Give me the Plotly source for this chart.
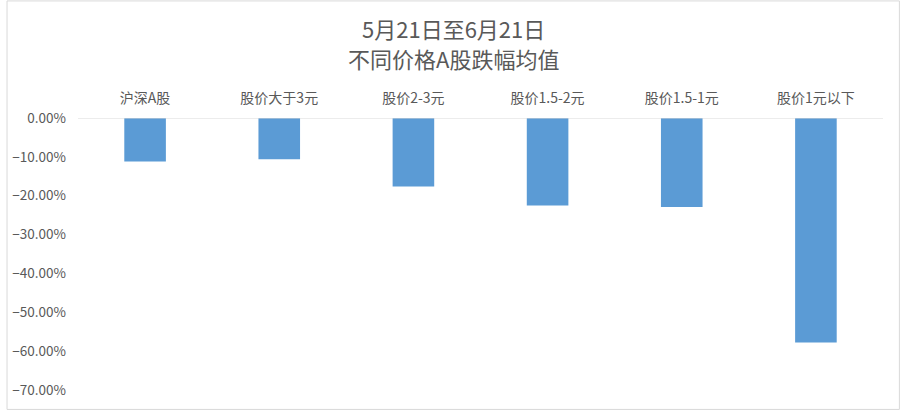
import plotly.graph_objects as go

categories = ["沪深A股", "股价大于3元", "股价2-3元", "股价1.5-2元", "股价1.5-1元", "股价1元以下"]
avg_drop = [-0.112, -0.106, -0.176, -0.225, -0.229, -0.578]
y_ticks = [0, -0.1, -0.2, -0.3, -0.4, -0.5, -0.6, -0.7]
title_lines = ["5月21日至6月21日", "不同价格A股跌幅均值"]

W, H = 900, 411
ml, mr, mt, mb = 72, 17, 118, 20
text_color = "#595959"
font_name = "Noto Sans CJK SC"

fig = go.Figure()
fig.add_bar(x=categories, y=avg_drop, width=0.31,
            marker=dict(color="#5b9bd5", line=dict(color="#5b9bd5", width=0)))

fig.update_layout(
    width=W, height=H,
    margin=dict(l=ml, r=mr, t=mt, b=mb),
    paper_bgcolor="white", plot_bgcolor="white",
    showlegend=False,
    font=dict(family=font_name, size=12, color=text_color),
    xaxis=dict(side="top", showgrid=False, showline=False, ticks="",
               ticklabelstandoff=11, tickfont=dict(size=14, color=text_color)),
    yaxis=dict(range=[-0.7, 0], tickvals=y_ticks, tickformat=".2%",
               showgrid=False, zeroline=False, showline=False, ticks="",
               ticklabelstandoff=11, tickfont=dict(size=13.5, color=text_color)),
)

# zero line along the top of the plot
fig.add_shape(type="line", xref="paper", yref="y", x0=0, x1=1, y0=0, y1=0,
              line=dict(color="#d9d9d9", width=1))

# chart frame around the whole picture
pw, ph = W - ml - mr, H - mt - mb
fig.add_shape(type="rect", xref="paper", yref="paper",
              x0=(0.5 - ml) / pw, x1=(W - 0.5 - ml) / pw,
              y0=(0.5 - mb) / ph, y1=(H - mb - 0.5) / ph,
              line=dict(color="#d9d9d9", width=1), layer="below")

for text, ypix in zip(title_lines, [28, 58]):
    fig.add_annotation(text=text, xref="paper", yref="paper",
                       x=(W / 2 - ml) / pw, y=(H - mb - ypix) / ph,
                       showarrow=False, xanchor="center", yanchor="middle",
                       font=dict(size=22, color=text_color, family=font_name))

# drop the default body margin so the figure sits at the window corner
fig.write_html("out.html", config={"displayModeBar": False},
               post_script="document.body.style.margin='0';")
